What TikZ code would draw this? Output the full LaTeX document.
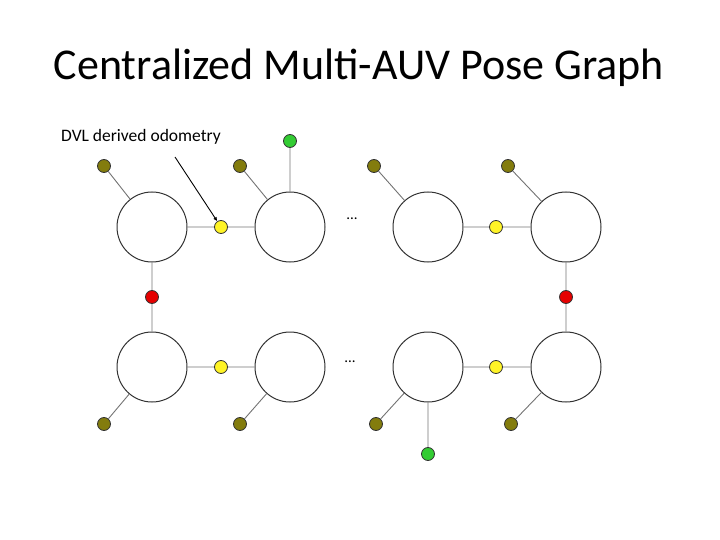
\documentclass[tikz,border=0pt]{standalone}
\usepackage{fontspec}
\usetikzlibrary{arrows.meta}
\setmainfont{Carlito}
\begin{document}
\begin{tikzpicture}[x=1pt,y=-1pt,
 big/.style={circle,draw=black!80,line width=1pt,fill=white,minimum size=70pt,inner sep=0},
 dot/.style={circle,draw=black!80,line width=0.8pt,minimum size=13pt,inner sep=0},
 olive/.style={dot,fill=olive!90!black},
 yel/.style={dot,fill=yellow!85!white},
 red/.style={dot,fill=red!90!black},
 grn/.style={dot,fill=green!75!black!80!white},
 ln/.style={draw=black!55,line width=0.9pt}]
\useasboundingbox (0,0) rectangle (720,540);
\node[font=\fontsize{44}{46}\selectfont] (title) at (359,68) {Centralized Multi-AUV Pose Graph};
\node[font=\fontsize{17.5}{19}\selectfont] (lab) at (141,137) {DVL derived odometry};
\foreach \n/\x in {a/152,b/290,c/428,d/566}{
 \node[big] (t\n) at (\x,227) {};
 \node[big] (b\n) at (\x,367) {};}
\node[yel] (y1) at (221,227) {};
\node[yel] (y2) at (496,227) {};
\node[yel] (y3) at (221,367) {};
\node[yel] (y4) at (496,367) {};
\node[red] (r1) at (152,297) {};
\node[red] (r2) at (566,297) {};
\node[olive] (o1) at (104,166) {};
\node[olive] (o2) at (240,166) {};
\node[olive] (o3) at (374,166) {};
\node[olive] (o4) at (508,166) {};
\node[olive] (o5) at (104,424) {};
\node[olive] (o6) at (240,424) {};
\node[olive] (o7) at (376,424) {};
\node[olive] (o8) at (511,424) {};
\node[grn] (g1) at (290,141) {};
\node[grn] (g2) at (428,454) {};
\node[font=\fontsize{15}{16}\selectfont] (e1) at (352,219) {...};
\node[font=\fontsize{15}{16}\selectfont] (e2) at (350,362) {...};
\draw[ln] (ta)--(y1)--(tb) (tc)--(y2)--(td) (ba)--(y3)--(bb) (bc)--(y4)--(bd)
 (ta)--(r1)--(ba) (td)--(r2)--(bd)
 (o1)--(ta) (o2)--(tb) (o3)--(tc) (o4)--(td) (o5)--(ba) (o6)--(bb) (o7)--(bc) (o8)--(bd)
 (g1)--(tb) (g2)--(bc);
\coordinate (s) at (175,157);
\draw[line width=0.9pt,-{Latex[length=4pt,width=4pt]}] (s)--(y1);
\end{tikzpicture}
\end{document}
